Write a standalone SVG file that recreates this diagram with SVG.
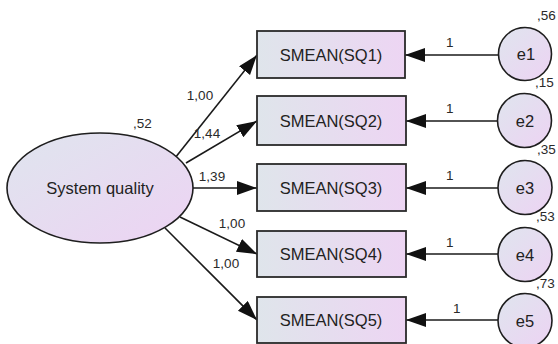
<svg xmlns="http://www.w3.org/2000/svg" width="558" height="344" viewBox="0 0 558 344">
  <defs>
    <linearGradient id="fillBox" x1="0" y1="0" x2="1" y2="0">
      <stop offset="0" stop-color="#dfe5eb"/>
      <stop offset="1" stop-color="#edd5f3"/>
    </linearGradient>
    <linearGradient id="fillRound" x1="0" y1="0" x2="1" y2="1">
      <stop offset="0" stop-color="#dfe5ee"/>
      <stop offset="1" stop-color="#edd3f3"/>
    </linearGradient>
    <marker id="arrow" markerUnits="userSpaceOnUse" markerWidth="22" markerHeight="16" refX="20" refY="7" orient="auto">
      <path d="M0,0 L20,7 L0,14 Z" fill="#111"/>
    </marker>
  </defs>
  <style>
    .box { fill: url(#fillBox); stroke: #2a2a2a; stroke-width: 1.8; }
    .round { fill: url(#fillRound); stroke: #1e1e1e; stroke-width: 1.6; }
    .node-text { font-family: "Liberation Sans", Arial, sans-serif; font-size: 16.5px; fill: #222; text-anchor: middle; }
    .num { font-family: "Liberation Sans", Arial, sans-serif; font-size: 13.5px; fill: #2a2a2a; }
    .conn { stroke: #1a1a1a; stroke-width: 1.6; fill: none; marker-end: url(#arrow); }
  </style>

  <!-- connectors: loadings and error paths -->
  <g id="connectors">
    <line class="conn" x1="175" y1="158" x2="257" y2="55"/>
    <line class="conn" x1="186" y1="163" x2="257" y2="121"/>
    <line class="conn" x1="193" y1="188" x2="257" y2="188"/>
    <line class="conn" x1="180" y1="217" x2="257" y2="254"/>
    <line class="conn" x1="165" y1="228" x2="257" y2="320"/>

    <line class="conn" x1="498" y1="55" x2="405" y2="55"/>
    <line class="conn" x1="497" y1="121" x2="406" y2="121"/>
    <line class="conn" x1="498" y1="188" x2="406" y2="188"/>
    <line class="conn" x1="498" y1="254" x2="406" y2="254"/>
    <line class="conn" x1="498" y1="320" x2="406" y2="320"/>

    <text class="num" x="200" y="100" text-anchor="middle">1,00</text>
    <text class="num" x="207" y="138" text-anchor="middle">1,44</text>
    <text class="num" x="212" y="181" text-anchor="middle">1,39</text>
    <text class="num" x="232" y="228" text-anchor="middle">1,00</text>
    <text class="num" x="226" y="268" text-anchor="middle">1,00</text>

    <text class="num" x="446" y="47">1</text>
    <text class="num" x="446" y="113">1</text>
    <text class="num" x="446" y="180">1</text>
    <text class="num" x="446" y="247">1</text>
    <text class="num" x="453" y="313">1</text>
  </g>

  <!-- latent factor -->
  <g id="system-quality">
    <ellipse class="round" cx="100" cy="188" rx="93" ry="55"/>
    <text class="node-text" x="100" y="194">System quality</text>
    <text class="num" x="133" y="128">,52</text>
  </g>

  <!-- observed indicators -->
  <g id="sq1">
    <rect class="box" x="257" y="31" width="148" height="47"/>
    <text class="node-text" x="331" y="61">SMEAN(SQ1)</text>
  </g>
  <g id="sq2">
    <rect class="box" x="257" y="96" width="149" height="49"/>
    <text class="node-text" x="331" y="127">SMEAN(SQ2)</text>
  </g>
  <g id="sq3">
    <rect class="box" x="257" y="164" width="149" height="47"/>
    <text class="node-text" x="331" y="194">SMEAN(SQ3)</text>
  </g>
  <g id="sq4">
    <rect class="box" x="257" y="231" width="149" height="46"/>
    <text class="node-text" x="331" y="260">SMEAN(SQ4)</text>
  </g>
  <g id="sq5">
    <rect class="box" x="257" y="297" width="149" height="46"/>
    <text class="node-text" x="331" y="326">SMEAN(SQ5)</text>
  </g>

  <!-- error terms -->
  <g id="e1">
    <circle class="round" cx="525" cy="54" r="26.5"/>
    <text class="node-text" x="526" y="60">e1</text>
    <text class="num" x="537" y="20">,56</text>
  </g>
  <g id="e2">
    <circle class="round" cx="524.5" cy="120.5" r="27"/>
    <text class="node-text" x="525" y="127">e2</text>
    <text class="num" x="535" y="87">,15</text>
  </g>
  <g id="e3">
    <circle class="round" cx="525" cy="187.5" r="27"/>
    <text class="node-text" x="525" y="194">e3</text>
    <text class="num" x="537" y="154">,35</text>
  </g>
  <g id="e4">
    <circle class="round" cx="525" cy="254.5" r="27"/>
    <text class="node-text" x="525" y="261">e4</text>
    <text class="num" x="536" y="221">,53</text>
  </g>
  <g id="e5">
    <circle class="round" cx="525" cy="320.5" r="27"/>
    <text class="node-text" x="525" y="327">e5</text>
    <text class="num" x="536" y="288">,73</text>
  </g>
</svg>
